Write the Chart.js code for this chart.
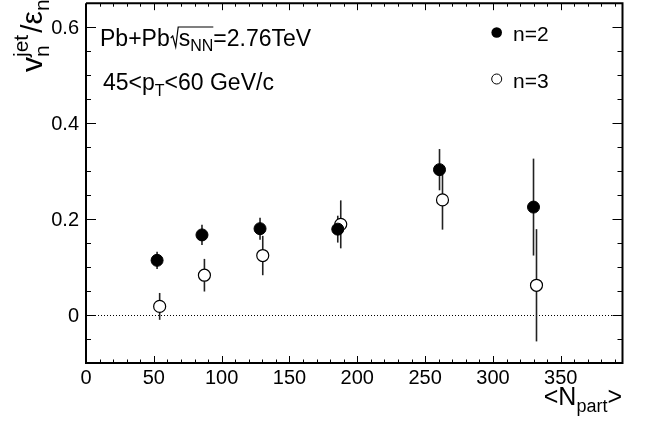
<!DOCTYPE html>
<html>
<head>
<meta charset="utf-8">
<script src="https://cdn.jsdelivr.net/npm/chart.js@4.4.1/dist/chart.umd.min.js"></script>
<style>
  html, body { margin: 0; padding: 0; background: #fff; overflow: hidden; }
  #wrap { position: absolute; left: 0; top: -4px; width: 645px; height: 427px; }
</style>
</head>
<body>
<div id="wrap"><canvas id="myChart" width="645" height="427"></canvas></div>
<script>
// data
const npart2 = [52.4, 85.5, 128.3, 185.6, 260.6, 329.9];
const v2 = [0.114, 0.167, 0.180, 0.179, 0.303, 0.225];
const err2 = [0.018, 0.021, 0.023, 0.028, 0.043, 0.101];

const npart3 = [54.3, 87.3, 130.3, 187.8, 262.8, 332.1];
const v3 = [0.018, 0.083, 0.124, 0.189, 0.240, 0.062];
const err3 = [0.028, 0.034, 0.041, 0.050, 0.062, 0.117];

const xTickLabels = [0, 50, 100, 150, 200, 250, 300, 350];
const yTickLabels = [0, 0.2, 0.4, 0.6];

const FONT = "'Liberation Sans', Arial, sans-serif";
const DY = 4; // canvas is shifted up by 4px so the top frame is cut off

function toPoints(xs, ys) {
    return xs.map(function(x, i){ return {x: x, y: ys[i]}; });
}

function runs(ctx, x, y, parts) {
    // parts: [text, size, dy]
    parts.forEach(function(p){
        ctx.font = p[1] + 'px ' + FONT;
        ctx.fillText(p[0], x, y + (p[2] || 0));
        x += ctx.measureText(p[0]).width;
    });
    return x;
}

const rootStyle = {
    id: 'rootStyle',
    beforeDatasetsDraw(chart) {
        const ctx = chart.ctx;
        const xs = chart.scales.x, ys = chart.scales.y;
        const a = chart.chartArea;
        ctx.save();
        // dotted zero line
        ctx.strokeStyle = '#000';
        ctx.lineWidth = 1;
        ctx.setLineDash([1, 2]);
        ctx.beginPath();
        ctx.moveTo(a.left, Math.round(ys.getPixelForValue(0)) + 0.5);
        ctx.lineTo(a.right, Math.round(ys.getPixelForValue(0)) + 0.5);
        ctx.stroke();
        ctx.setLineDash([]);
        // error bars
        ctx.lineWidth = 1.6;
        ctx.strokeStyle = '#222';
        [[npart3, v3, err3], [npart2, v2, err2]].forEach(function(s){
            s[0].forEach(function(n, i){
                const px = xs.getPixelForValue(n);
                ctx.beginPath();
                ctx.moveTo(px, ys.getPixelForValue(s[1][i] + s[2][i]));
                ctx.lineTo(px, ys.getPixelForValue(s[1][i] - s[2][i]));
                ctx.stroke();
            });
        });
        ctx.restore();
    },
    afterDraw(chart) {
        const ctx = chart.ctx;
        const xs = chart.scales.x, ys = chart.scales.y;
        const a = chart.chartArea;
        ctx.save();
        ctx.strokeStyle = '#000';
        ctx.fillStyle = '#000';

        // ticks
        ctx.lineWidth = 1;
        ctx.beginPath();
        for (let v = 0; v <= xs.max; v += 10) {
            const px = Math.round(xs.getPixelForValue(v)) + 0.5;
            const len = (v % 50 === 0) ? 7 : 3.5;
            ctx.moveTo(px, a.bottom); ctx.lineTo(px, a.bottom - len);
            ctx.moveTo(px, a.top); ctx.lineTo(px, a.top + len);
        }
        for (let k = -2; k * 0.05 <= ys.max + 1e-9; k++) {
            const v = k * 0.05;
            const py = Math.round(ys.getPixelForValue(v)) + 0.5;
            const len = (k % 4 === 0) ? 10 : 5;
            ctx.moveTo(a.left, py); ctx.lineTo(a.left + len, py);
            ctx.moveTo(a.right, py); ctx.lineTo(a.right - len, py);
        }
        ctx.stroke();

        // frame
        ctx.lineWidth = 2;
        ctx.beginPath();
        ctx.moveTo(a.left, a.top); ctx.lineTo(a.left, a.bottom);
        ctx.lineTo(a.right, a.bottom); ctx.lineTo(a.right, a.top);
        ctx.lineTo(a.left, a.top);
        ctx.stroke();

        // tick labels
        ctx.font = '20px ' + FONT;
        ctx.textAlign = 'center';
        ctx.textBaseline = 'alphabetic';
        xTickLabels.forEach(function(v){
            ctx.fillText(String(v), xs.getPixelForValue(v), 384 + DY);
        });
        ctx.textAlign = 'right';
        ctx.textBaseline = 'middle';
        yTickLabels.forEach(function(v){
            ctx.fillText(v === 0 ? '0' : v.toFixed(1), 79, ys.getPixelForValue(v) + 1);
        });

        // x title
        ctx.textAlign = 'left';
        ctx.textBaseline = 'alphabetic';
        ctx.font = '25px ' + FONT;
        let w = ctx.measureText('<N').width + ctx.measureText('>').width;
        ctx.font = '18px ' + FONT;
        w += ctx.measureText('part').width;
        runs(ctx, 622 - w, 405 + DY, [['<N', 25, 0], ['part', 18, 7], ['>', 25, 0]]);

        // y title (rotated, cut at the top like the original)
        ctx.save();
        ctx.translate(42, 72 + DY);
        ctx.rotate(-Math.PI / 2);
        ctx.font = '30px ' + FONT;
        ctx.fillText('v', 0, 0);
        let tx = ctx.measureText('v').width;
        ctx.font = '21px ' + FONT;
        ctx.fillText('n', tx, 7);
        ctx.fillText('jet', tx, -14);
        tx += ctx.measureText('jet').width + 2;
        runs(ctx, tx, 0, [['/', 30, 0], ['\u03b5', 30, 0], ['n', 21, 7]]);
        ctx.restore();

        // annotations
        let bx = 100, by = 46 + DY;
        bx = runs(ctx, bx, by, [['Pb+Pb', 23, 0]]);
        let sx = bx + 9;
        let ex = runs(ctx, sx, by, [['s', 23, 0], ['NN', 16, 5]]);
        ctx.lineWidth = 1.2;
        ctx.beginPath();
        ctx.moveTo(bx + 1, by - 8);
        ctx.lineTo(bx + 3, by - 10);
        ctx.lineTo(bx + 6, by + 1);
        ctx.lineTo(bx + 8.5, by - 19);
        ctx.lineTo(ex, by - 19);
        ctx.stroke();
        runs(ctx, ex, by, [['=2.76TeV', 23, 0]]);

        runs(ctx, 103, 90 + DY, [['45<p', 23, 0], ['T', 16, 6], ['<60 GeV/c', 23, 0]]);

        // legend
        ctx.beginPath();
        ctx.arc(496.7, 32.5 + DY, 5.3, 0, Math.PI * 2);
        ctx.fill();
        ctx.beginPath();
        ctx.lineWidth = 1;
        ctx.arc(496.7, 79 + DY, 5, 0, Math.PI * 2);
        ctx.stroke();
        ctx.font = '21px ' + FONT;
        ctx.fillText('n=2', 513, 41 + DY);
        ctx.fillText('n=3', 513, 88 + DY);

        ctx.restore();
    }
};

const ctx01 = document.getElementById('myChart').getContext('2d');
const myChart = new Chart(ctx01, {
    type: 'scatter',
    data: {
        datasets: [
            {
                label: 'n=2',
                data: toPoints(npart2, v2),
                backgroundColor: '#000',
                borderColor: '#000',
                pointRadius: 6,
                pointHoverRadius: 6,
                order: 0
            },
            {
                label: 'n=3',
                data: toPoints(npart3, v3),
                backgroundColor: '#fff',
                borderColor: '#000',
                borderWidth: 1.2,
                pointRadius: 6,
                pointHoverRadius: 6,
                order: 1
            }
        ]
    },
    options: {
        responsive: false,
        animation: false,
        events: [],
        layout: {
            padding: { left: 86, right: 22.5, top: 0, bottom: 60 }
        },
        scales: {
            x: { type: 'linear', min: 0, max: 395.5, display: false },
            y: { type: 'linear', min: -0.1, max: 0.65, display: false }
        },
        plugins: {
            legend: { display: false },
            tooltip: { enabled: false }
        }
    },
    plugins: [rootStyle]
});
</script>
</body>
</html>
